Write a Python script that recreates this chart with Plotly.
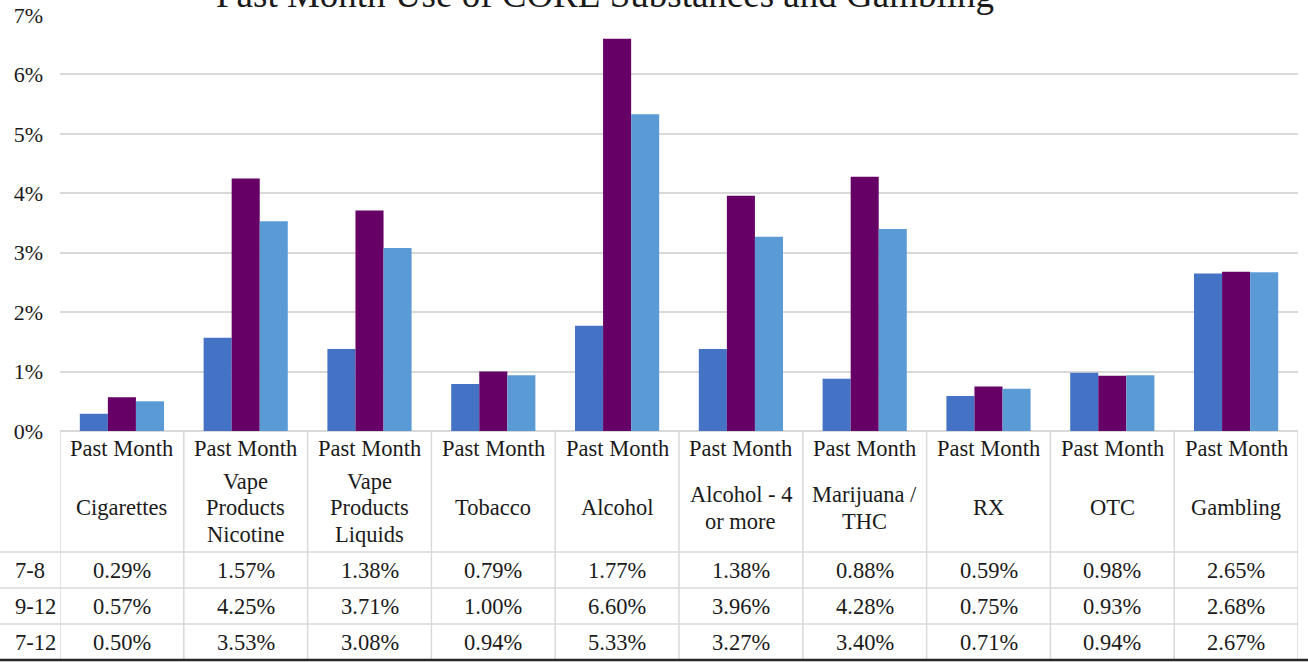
import plotly.graph_objects as go

# Chart data
header_prefix = "Past Month"
categories = ["Cigarettes", "Vape<br>Products<br>Nicotine", "Vape<br>Products<br>Liquids",
              "Tobacco", "Alcohol", "Alcohol - 4<br>or more", "Marijuana /<br>THC",
              "RX", "OTC", "Gambling"]
grades = ["7-8", "9-12", "7-12"]
grade_7_8 = [0.29, 1.57, 1.38, 0.79, 1.77, 1.38, 0.88, 0.59, 0.98, 2.65]
grade_9_12 = [0.57, 4.25, 3.71, 1.00, 6.60, 3.96, 4.28, 0.75, 0.93, 2.68]
grade_7_12 = [0.50, 3.53, 3.08, 0.94, 5.33, 3.27, 3.40, 0.71, 0.94, 2.67]
y_ticks = [0, 1, 2, 3, 4, 5, 6, 7]
y_tick_labels = ["0%", "1%", "2%", "3%", "4%", "5%", "6%", "7%"]
title_text = "Past Month Use of CORE Substances and Gambling"

series = [grade_7_8, grade_9_12, grade_7_12]
colors = ["#4472C4", "#660066", "#5B9BD5"]

W, H = 1308, 662
L, R, T, B = 60, 10, 15, 231
PW, PH = W - L - R, H - T - B
FONT = "Liberation Serif"
TXT = "#1a1a1a"
GRID = "#d9d9d9"


def px(x):
    return (x - L) / PW


def py(y):
    return (H - B - y) / PH


fig = go.Figure()
xs = list(range(len(categories)))
for name, vals, col in zip(grades, series, colors):
    fig.add_trace(go.Bar(x=xs, y=vals, name=name, marker_color=col,
                         marker_line_width=0, showlegend=False))

shapes = []
annotations = []

# Data table grid below the plot
row_lines = [552, 588, 624]
table_bottom = 660
for k in range(len(categories) + 1):
    shapes.append(dict(type="line", xref="x", yref="paper", x0=k - 0.5, x1=k - 0.5,
                       y0=py(H - B), y1=py(table_bottom),
                       line=dict(color=GRID, width=1.5)))
for yl in row_lines:
    shapes.append(dict(type="line", xref="paper", yref="paper", x0=px(0), x1=px(W - R),
                       y0=py(yl), y1=py(yl), line=dict(color=GRID, width=1.5)))
shapes.append(dict(type="line", xref="paper", yref="paper", x0=px(0), x1=px(W),
                   y0=py(table_bottom), y1=py(table_bottom),
                   line=dict(color="#262626", width=2.5)))

# Header cells: prefix line plus wrapped category name
for i, cat in enumerate(categories):
    annotations.append(dict(x=i, y=py(448), xref="x", yref="paper", text=header_prefix,
                            showarrow=False, xanchor="center", yanchor="middle",
                            font=dict(family=FONT, size=22.5, color=TXT)))
    lines = cat.split("<br>")
    n = len(lines)
    for j, ln in enumerate(lines):
        yc = 508 + (j - (n - 1) / 2) * 26
        annotations.append(dict(x=i, y=py(yc), xref="x", yref="paper", text=ln,
                                showarrow=False, xanchor="center", yanchor="middle",
                                font=dict(family=FONT, size=22.5, color=TXT)))

# Value rows
row_centers = [570, 606, 642]
for g, vals, yc in zip(grades, series, row_centers):
    annotations.append(dict(x=px(13), y=py(yc), xref="paper", yref="paper", text=g,
                            showarrow=False, xanchor="left", yanchor="middle",
                            font=dict(family=FONT, size=22.5, color=TXT)))
    for i, v in enumerate(vals):
        annotations.append(dict(x=i, y=py(yc), xref="x", yref="paper", text=f"{v:.2f}%",
                                showarrow=False, xanchor="center", yanchor="middle",
                                font=dict(family=FONT, size=22.5, color=TXT)))

# Title (sits at the very top edge)
annotations.append(dict(x=px(605), y=py(-6), xref="paper", yref="paper", text=title_text,
                        showarrow=False, xanchor="center", yanchor="middle",
                        font=dict(family=FONT, size=37, color=TXT)))

fig.update_layout(
    width=W, height=H,
    margin=dict(l=L, r=R, t=T, b=B, pad=0, autoexpand=False),
    paper_bgcolor="white", plot_bgcolor="white",
    barmode="group", bargap=0.32, bargroupgap=0,
    shapes=shapes, annotations=annotations,
    xaxis=dict(range=[-0.5, len(categories) - 0.5], showticklabels=False,
               showgrid=False, zeroline=False, showline=False, ticks="",
               automargin=False),
    yaxis=dict(range=[0, 7], tickvals=y_ticks, ticktext=y_tick_labels,
               showgrid=True, gridcolor=GRID, gridwidth=1.5, zeroline=True,
               zerolinecolor=GRID, zerolinewidth=1.5, showline=False, ticks="",
               ticklabelstandoff=16, automargin=False,
               tickfont=dict(family=FONT, size=22, color=TXT)),
)

fig.write_html("out.html")
